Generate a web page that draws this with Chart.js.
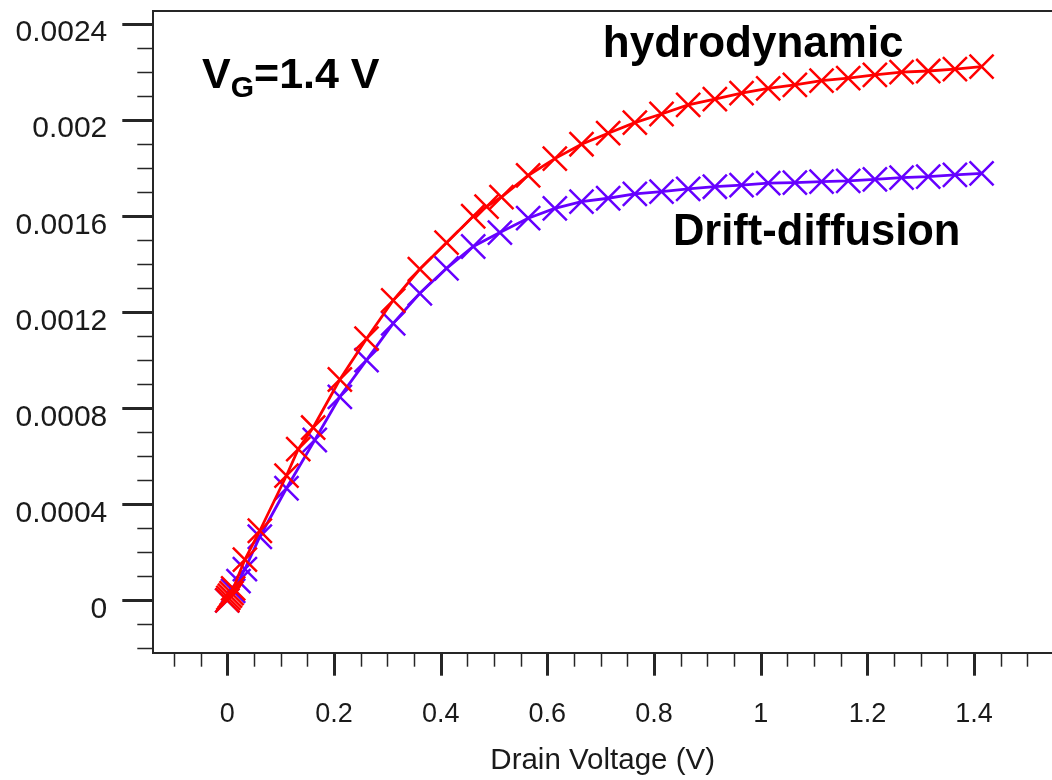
<!DOCTYPE html>
<html>
<head>
<meta charset="utf-8">
<script src="https://cdn.jsdelivr.net/npm/chart.js@4.4.1/dist/chart.umd.min.js"></script>
<style>
  html, body { margin: 0; padding: 0; background: #fff; }
  #wrap { width: 1052px; height: 780px; }
</style>
</head>
<body>
<div id="wrap"><canvas id="c" width="1052" height="780"></canvas></div>
<script>
// ---- data ----
const hdX = [0, 0.002, 0.005, 0.008, 0.011, 0.033, 0.061, 0.111, 0.133, 0.161, 0.211, 0.261, 0.311, 0.361, 0.411, 0.461, 0.486, 0.514, 0.564, 0.614, 0.664, 0.714, 0.764, 0.814, 0.864, 0.914, 0.964, 1.014, 1.064, 1.114, 1.164, 1.214, 1.264, 1.314, 1.364, 1.414];
const hdY = [0, 0.00001, 0.00002, 0.00003, 0.00005, 0.00017, 0.00029, 0.00052, 0.00063, 0.00072, 0.00092, 0.00109, 0.00125, 0.00138, 0.00149, 0.00160, 0.00164, 0.00168, 0.00177, 0.00184, 0.00190, 0.001946, 0.00199, 0.002026, 0.002064, 0.002088, 0.002113, 0.002133, 0.002147, 0.002165, 0.002175, 0.002189, 0.0022, 0.002205, 0.002213, 0.002223];
const ddX = [0, 0.011, 0.021, 0.033, 0.061, 0.111, 0.164, 0.211, 0.261, 0.311, 0.361, 0.411, 0.461, 0.511, 0.564, 0.614, 0.664, 0.714, 0.764, 0.814, 0.864, 0.914, 0.964, 1.014, 1.064, 1.114, 1.164, 1.214, 1.264, 1.314, 1.364, 1.414];
const ddY = [0, 0.00004, 0.00008, 0.00013, 0.000265, 0.000467, 0.000668, 0.000848, 0.001001, 0.001154, 0.001279, 0.001383, 0.001474, 0.001532, 0.001592, 0.001633, 0.001661, 0.001675, 0.001693, 0.001703, 0.001714, 0.001723, 0.00173, 0.001738, 0.00174, 0.001744, 0.001747, 0.001754, 0.001761, 0.001765, 0.001772, 0.001779];

const seriesNames = ['hydrodynamic', 'Drift-diffusion'];

const xMajorTicks = [0, 0.2, 0.4, 0.6, 0.8, 1, 1.2, 1.4];
const xTickLabels = ['0', '0.2', '0.4', '0.6', '0.8', '1', '1.2', '1.4'];
const yMajorTicks = [0, 0.0004, 0.0008, 0.0012, 0.0016, 0.002, 0.0024];
const yTickLabels = ['0', '0.0004', '0.0008', '0.0012', '0.0016', '0.002', '0.0024'];

const xAxisTitle = 'Drain Voltage (V)';

// axis ranges and minor tick steps
const xMin = -0.1387, xMax = 1.546, xMinorStep = 0.05;
const yMin = -0.000218, yMax = 0.002455, yMinorStep = 0.0001;

// text annotations placed in data coordinates
const notes = [
  { parts: [['V', 43, 0], ['G', 30, 9], ['=1.4 V', 43, 0]], x: -0.0474, y: 0.0021346 },
  { parts: [['hydrodynamic', 44, 0]], x: 0.704, y: 0.002263 },
  { parts: [['Drift-diffusion', 43.5, 0]], x: 0.8354, y: 0.0014804 }
];

// ---- helpers ----
function minorTicks(min, max, step) {
  const out = [];
  const start = Math.ceil(min / step - 1e-9);
  const end = Math.floor(max / step + 1e-9);
  for (let k = start; k <= end; k++) out.push(+(k * step).toFixed(8));
  return out;
}
function isMajor(v, majors) { return majors.some(m => Math.abs(m - v) < 1e-9); }
function labelFor(v, majors, labels) {
  const i = majors.findIndex(m => Math.abs(m - v) < 1e-9);
  return i >= 0 ? labels[i] : '';
}
function pts(xs, ys) { return xs.map((x, i) => ({ x: x, y: ys[i] })); }

const FONT = "'Liberation Sans', Arial, Helvetica, sans-serif";
const AXIS = '#262626';
const RED = '#ff0000';
const PURPLE = '#6600ff';

const decorPlugin = {
  id: 'decor',
  afterDraw(chart) {
    const ctx = chart.ctx, a = chart.chartArea;
    const xs = chart.scales.x, ys = chart.scales.y;
    ctx.save();
    ctx.strokeStyle = AXIS;
    // top frame line
    ctx.lineWidth = 2;
    ctx.beginPath(); ctx.moveTo(a.left, a.top); ctx.lineTo(a.right + 2, a.top); ctx.stroke();
    // x tick marks
    xs.ticks.forEach(t => {
      const p = Math.round(xs.getPixelForValue(t.value)) + 0.5;
      const maj = isMajor(t.value, xMajorTicks);
      ctx.lineWidth = maj ? 3 : 1.5;
      ctx.beginPath(); ctx.moveTo(p, a.bottom); ctx.lineTo(p, a.bottom + (maj ? 23 : 14)); ctx.stroke();
    });
    // y tick marks
    ys.ticks.forEach(t => {
      const p = Math.round(ys.getPixelForValue(t.value)) + 0.5;
      const maj = isMajor(t.value, yMajorTicks);
      ctx.lineWidth = maj ? 3 : 1.5;
      ctx.beginPath(); ctx.moveTo(a.left, p); ctx.lineTo(a.left - (maj ? 31 : 16), p); ctx.stroke();
    });
    // annotations
    ctx.fillStyle = '#000';
    ctx.textBaseline = 'alphabetic';
    ctx.textAlign = 'left';
    notes.forEach(n => {
      let px = xs.getPixelForValue(n.x);
      const py = ys.getPixelForValue(n.y);
      n.parts.forEach(([txt, size, dy]) => {
        ctx.font = 'bold ' + size + 'px ' + FONT;
        ctx.fillText(txt, px, py + dy);
        px += ctx.measureText(txt).width;
      });
    });
    ctx.restore();
  }
};

new Chart(document.getElementById('c'), {
  type: 'line',
  data: {
    datasets: [
      {
        label: seriesNames[0],
        data: pts(hdX, hdY),
        borderColor: RED, backgroundColor: RED,
        borderWidth: 2.8,
        pointStyle: 'crossRot', pointRadius: 17, pointBorderWidth: 2.5,
        pointBorderColor: RED, pointBackgroundColor: RED,
        tension: 0, fill: false
      },
      {
        label: seriesNames[1],
        data: pts(ddX, ddY),
        borderColor: PURPLE, backgroundColor: PURPLE,
        borderWidth: 2.8,
        pointStyle: 'crossRot', pointRadius: 17, pointBorderWidth: 2.5,
        pointBorderColor: PURPLE, pointBackgroundColor: PURPLE,
        tension: 0, fill: false
      }
    ]
  },
  options: {
    responsive: false,
    animation: false,
    devicePixelRatio: 1,
    events: [],
    layout: { autoPadding: false, padding: { top: 11, left: 0, right: 0, bottom: 0 } },
    plugins: { legend: { display: false }, tooltip: { enabled: false }, title: { display: false } },
    scales: {
      x: {
        type: 'linear',
        min: xMin, max: xMax,
        grid: { display: false },
        border: { display: true, color: AXIS, width: 2 },
        afterBuildTicks: s => { s.ticks = minorTicks(xMin, xMax, xMinorStep).map(v => ({ value: v })); },
        afterFit: s => { s.height = 127.3; s.paddingLeft = s.paddingRight = s.paddingTop = s.paddingBottom = 0; },
        ticks: {
          autoSkip: false, maxRotation: 0, minRotation: 0,
          padding: 38,
          color: '#1a1a1a',
          font: { family: FONT, size: 27 },
          callback: v => labelFor(v, xMajorTicks, xTickLabels)
        },
        title: {
          display: true, text: xAxisTitle, color: '#1a1a1a',
          font: { family: FONT, size: 29.5 },
          padding: { top: 0, bottom: 1 }
        }
      },
      y: {
        type: 'linear',
        min: yMin, max: yMax,
        grid: { display: false },
        border: { display: true, color: AXIS, width: 2 },
        afterBuildTicks: s => { s.ticks = minorTicks(yMin, yMax, yMinorStep).map(v => ({ value: v })); },
        afterFit: s => { s.width = 153.3; s.paddingLeft = s.paddingRight = s.paddingTop = s.paddingBottom = 0; },
        ticks: {
          autoSkip: false,
          padding: 38,
          labelOffset: 9,
          color: '#1a1a1a',
          font: { family: FONT, size: 30 },
          callback: v => labelFor(v, yMajorTicks, yTickLabels)
        }
      }
    }
  },
  plugins: [decorPlugin]
});
</script>
</body>
</html>
